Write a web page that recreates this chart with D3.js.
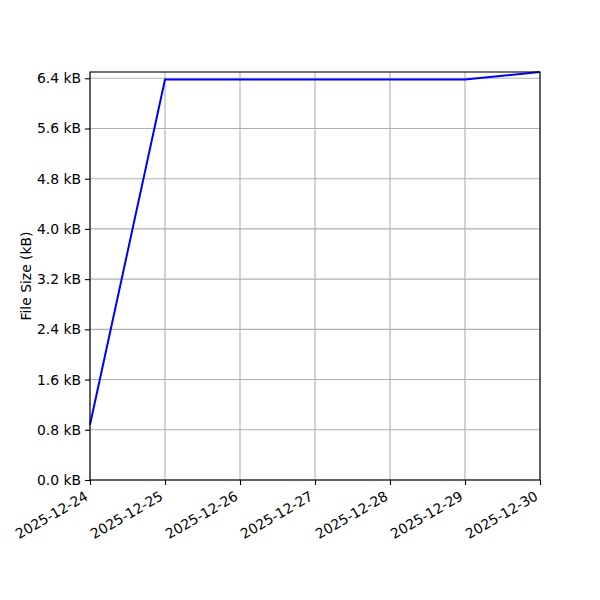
<!DOCTYPE html>
<html>
<head>
<meta charset="utf-8">
<script src="https://cdn.jsdelivr.net/npm/d3@7"></script>
<style>
  body { margin: 0; background: #fff; }
  text { font-family: "DejaVu Sans", sans-serif; }
</style>
</head>
<body>
<div id="chart"></div>
<script>
// file size over days
const dates = ["2025-12-24", "2025-12-25", "2025-12-26", "2025-12-27", "2025-12-28", "2025-12-29", "2025-12-30"];
const sizesKB = [0.88, 6.38, 6.38, 6.38, 6.38, 6.38, 6.5];
const yTicks = [0, 0.8, 1.6, 2.4, 3.2, 4.0, 4.8, 5.6, 6.4];

const margin = { top: 72, right: 60, bottom: 120, left: 90 };
const width = 600 - margin.left - margin.right;
const height = 600 - margin.top - margin.bottom;

const parse = d3.timeParse("%Y-%m-%d");
const data = dates.map((d, i) => ({ date: parse(d), size: sizesKB[i] }));

const svg = d3.select("#chart")
    .append("svg")
    .attr("width", 600)
    .attr("height", 600)
    .append("g")
    .attr("transform", `translate(${margin.left},${margin.top})`);

const x = d3.scaleTime()
    .domain(d3.extent(data, d => d.date))
    .range([0, width]);

const y = d3.scaleLinear()
    .domain([0, 6.5])
    .range([height, 0]);

// grid
svg.append("g")
    .selectAll("line")
    .data(data)
    .join("line")
    .attr("x1", d => x(d.date))
    .attr("x2", d => x(d.date))
    .attr("y1", 0)
    .attr("y2", height)
    .attr("stroke", "#b0b0b0")
    .attr("stroke-width", 1.1);

svg.append("g")
    .selectAll("line")
    .data(yTicks)
    .join("line")
    .attr("x1", 0)
    .attr("x2", width)
    .attr("y1", d => y(d))
    .attr("y2", d => y(d))
    .attr("stroke", "#b0b0b0")
    .attr("stroke-width", 1.1);

// line
const line = d3.line()
    .x(d => x(d.date))
    .y(d => y(d.size));

svg.append("path")
    .datum(data)
    .attr("fill", "none")
    .attr("stroke", "#0000ff")
    .attr("stroke-width", 2)
    .attr("d", line);

// frame
svg.append("rect")
    .attr("width", width)
    .attr("height", height)
    .attr("fill", "none")
    .attr("stroke", "#000")
    .attr("stroke-width", 1.1);

// X axis
const xAxis = svg.append("g")
    .attr("transform", `translate(0,${height})`)
    .call(d3.axisBottom(x)
        .tickValues(data.map(d => d.date))
        .tickFormat(d3.timeFormat("%Y-%m-%d"))
        .tickSize(5));
xAxis.select(".domain").remove();
xAxis.selectAll("line").attr("stroke-width", 1.1);
xAxis.selectAll("text")
    .attr("font-size", 13.9)
    .attr("fill", "#000")
    .attr("x", 0)
    .attr("y", 0)
    .attr("dy", 0)
    .style("text-anchor", "end")
    .attr("transform", "translate(-1.5,19) rotate(-30)");

// Y axis
const yAxis = svg.append("g")
    .call(d3.axisLeft(y)
        .tickValues(yTicks)
        .tickFormat(d => d.toFixed(1) + " kB")
        .tickSize(5)
        .tickPadding(4));
yAxis.select(".domain").remove();
yAxis.selectAll("line").attr("stroke-width", 1.1);
yAxis.selectAll("text")
    .attr("font-size", 13.9)
    .attr("fill", "#000");

// Y label
svg.append("text")
    .attr("transform", `translate(${-59},${height / 2}) rotate(-90)`)
    .attr("text-anchor", "middle")
    .attr("font-size", 13.9)
    .text("File Size (kB)");
</script>
</body>
</html>
